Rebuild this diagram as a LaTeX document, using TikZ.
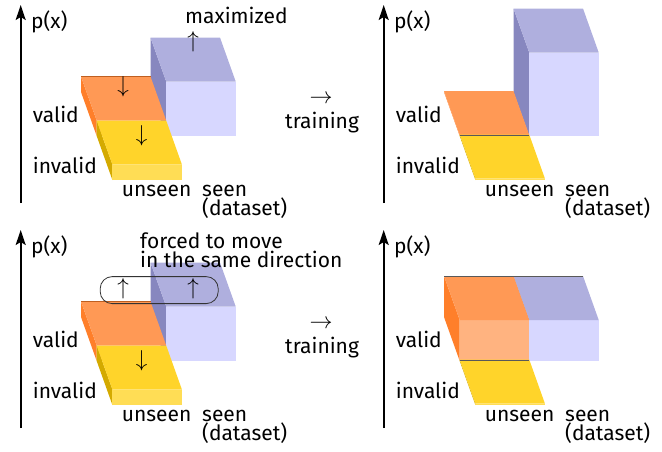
\documentclass[tikz,border=0pt]{standalone}
\usepackage{fix-cm}
\usepackage{fontspec}
\setmainfont{Fira Sans}
\usetikzlibrary{arrows.meta, positioning}

\definecolor{ortop}{HTML}{FF9955}
\definecolor{orfront}{HTML}{FFB380}
\definecolor{orside}{HTML}{FF7F2A}
\definecolor{yetop}{HTML}{FFD42A}
\definecolor{yefront}{HTML}{FFDD55}
\definecolor{yeside}{HTML}{D4AA00}
\definecolor{bltop}{HTML}{AFAFDE}
\definecolor{blfront}{HTML}{D7D7FF}
\definecolor{blside}{HTML}{8787BF}

% depth step and column width
\newcommand{\depx}{15.7}
\newcommand{\depy}{44}
\newcommand{\colw}{69.5}

% \block{x}{back y}{height}{top}{front}{side}
\newcommand{\block}[6]{%
  \fill[#6] (#1,#2) -- ++(0,-#3) -- ++(\depx,\depy) -- ++(0,#3) -- cycle;
  \fill[#5] (#1+\depx,#2+\depy) rectangle ++(\colw,-#3);
  \fill[#4] (#1,#2-#3) -- ++(\colw,0) -- ++(\depx,\depy) -- ++(-\colw,0) -- cycle;
}

% axis and the labels every panel has
\newcommand{\panellabels}{%
  \coordinate (bot) at (20.7,203);
  \coordinate (tip) at (20.7,5);
  \draw[line width=1.6pt, -{Stealth[length=15pt,width=10pt,inset=3pt]}] (bot) -- (tip);
  \node[lbl] (px) at (31,28.3) {p(x)};
  \node[lbl] (valid) at (32.7,122.7) {valid};
  \node[lbl] (invalid) at (32.7,173.3) {invalid};
  \node[lbl] (unseen) at (121.7,196) {unseen};
  \node[lbl] (seen) at (202,196) {seen};
  \node[lbl] (dataset) at (202,215) {(dataset)};
}

\begin{document}
\begin{tikzpicture}[x=1pt, y=-1pt, font=\fontsize{21}{19.5}\selectfont,
  lbl/.style={anchor=base west, inner sep=0pt},
  sym/.style={inner sep=0pt, font=\fontsize{23}{23}\selectfont},
  edge/.style={black!65, line width=0.5pt}]
\useasboundingbox (0,0) rectangle (662,451);

% top left: before training
\begin{scope}[name prefix=a-]
  \panellabels
  \block{150.5}{92}{54.5}{bltop}{blfront}{blside}
  \block{81}{92}{15.5}{ortop}{orfront}{orside}
  \draw[edge, orside!75!black, line width=0.3pt] (81,76.5) -- ++(\colw,0);
  \block{96.7}{136}{15.5}{yetop}{yefront}{yeside}
  \node[sym] (dnv) at (123,86.5) {$\downarrow$};
  \node[sym] (dni) at (141.7,135.3) {$\downarrow$};
  \node[sym] (ups) at (193,42) {$\uparrow$};
  \node[lbl] (maxi) at (185,23.3) {maximized};
  \node[sym] (go) at (321,99) {$\rightarrow$};
  \node[lbl] (train) at (285,128) {training};
\end{scope}

% top right: after training
\begin{scope}[shift={(363,0)}, name prefix=b-]
  \panellabels
  \block{150.5}{92}{83.5}{bltop}{blfront}{blside}
  \block{81}{92}{1}{ortop}{orfront}{orside}
  \block{96.7}{136}{1.5}{yetop}{yefront}{yeside}
  \draw[edge] (96.7,135.5) -- ++(\colw,0);
\end{scope}

% bottom left: before training, coupled
\begin{scope}[shift={(0,225)}, name prefix=c-]
  \panellabels
  \block{150.5}{92}{54.5}{bltop}{blfront}{blside}
  \block{81}{92}{15.5}{ortop}{orfront}{orside}
  \draw[edge, orside!75!black, line width=0.3pt] (81,76.5) -- ++(\colw,0);
  \block{96.7}{136}{15.5}{yetop}{yefront}{yeside}
  \node[draw=black!80, line width=0.8pt, rounded corners=12pt,
        minimum width=118pt, minimum height=27pt] (pair) at (159.2,65.1) {};
  \node[sym] (upv) at (123,64) {$\uparrow$};
  \node[sym] (ups) at (193,64) {$\uparrow$};
  \node[sym] (dni) at (141.7,135.3) {$\downarrow$};
  \node[lbl] (forced) at (140,23.3) {forced to move};
  \node[lbl] (same) at (140,42.7) {in the same direction};
  \node[sym] (go) at (321,99) {$\rightarrow$};
  \node[lbl] (train) at (285,128) {training};
\end{scope}

% bottom right: after training
\begin{scope}[shift={(363,225)}, name prefix=d-]
  \panellabels
  \block{150.5}{92}{41}{bltop}{blfront}{blside}
  \block{81}{92}{41}{ortop}{orfront}{orside}
  \block{96.7}{136}{1.5}{yetop}{yefront}{yeside}
  \draw[edge] (81,51) -- ++(139,0);
  \draw[edge] (96.7,135.5) -- ++(\colw,0);
\end{scope}
\end{tikzpicture}
\end{document}
